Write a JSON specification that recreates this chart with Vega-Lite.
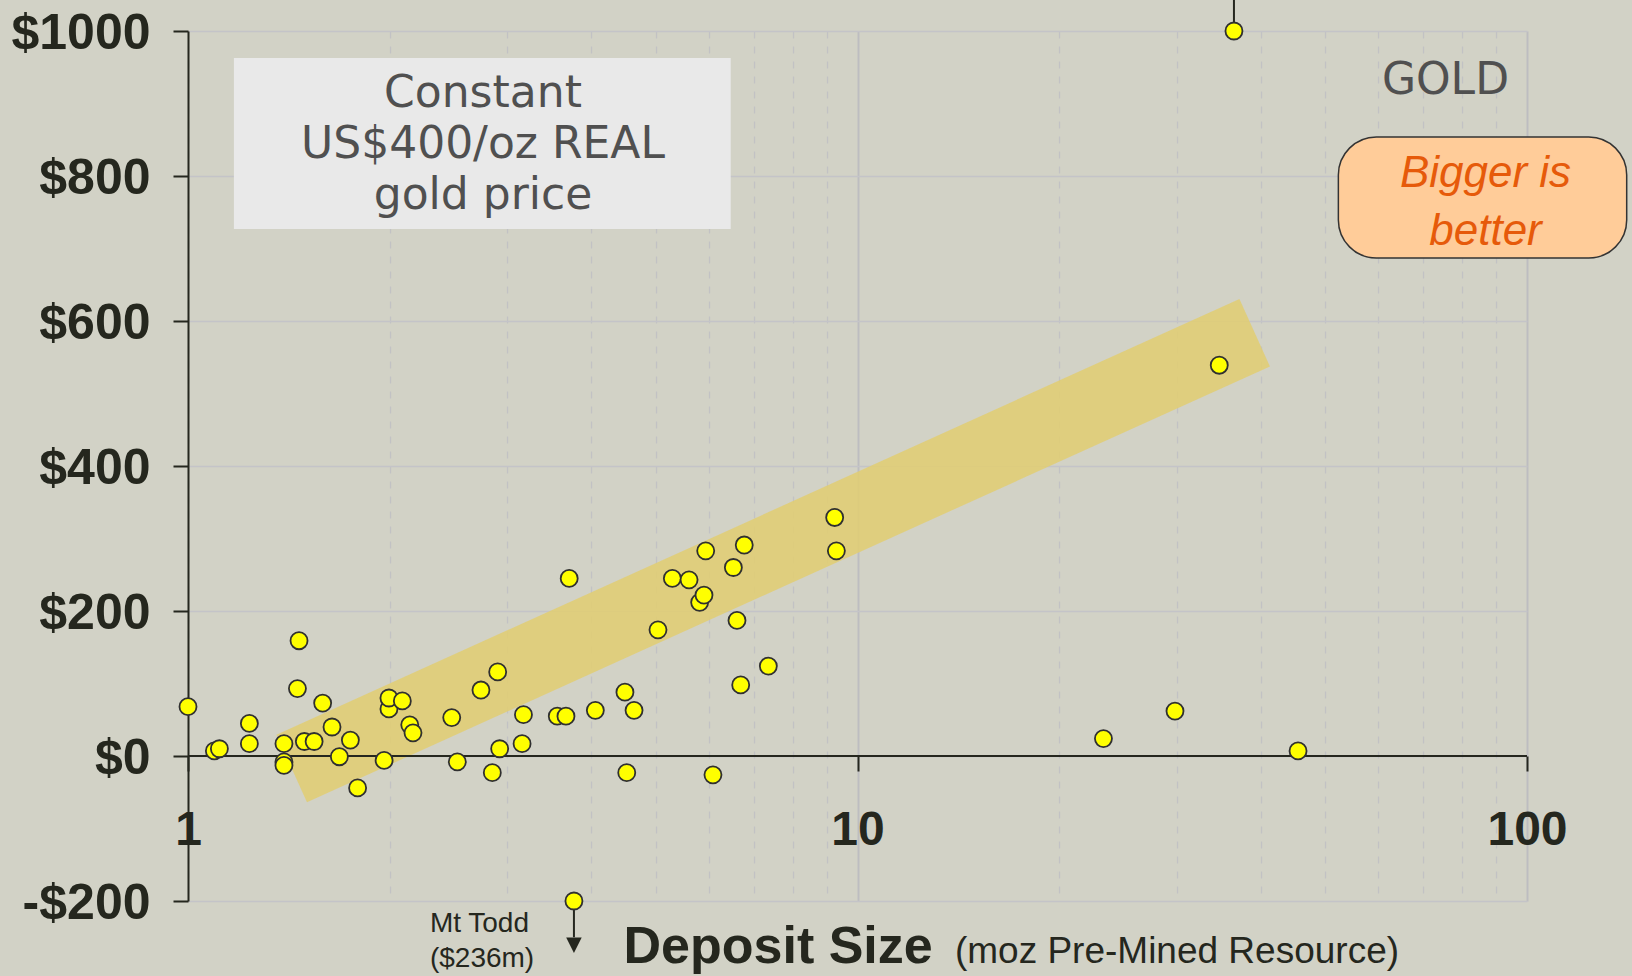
{
  "$schema": "https://vega.github.io/schema/vega-lite/v6.json",
  "width": 1339,
  "height": 870,
  "autosize": {"type": "none"},
  "padding": {"left": 188, "top": 31, "right": 105, "bottom": 75},
  "background": "#D2D2C6",
  "config": {"view": {"stroke": null}},
  "datasets": {
    "deposits": [
      {"size": 1.0, "margin": 68}, {"size": 1.095, "margin": 7}, {"size": 1.114, "margin": 10},
      {"size": 1.235, "margin": 45}, {"size": 1.235, "margin": 17}, {"size": 1.465, "margin": 159},
      {"size": 1.457, "margin": 93}, {"size": 1.391, "margin": 17}, {"size": 1.391, "margin": -8},
      {"size": 1.391, "margin": -13}, {"size": 1.492, "margin": 20}, {"size": 1.543, "margin": 20},
      {"size": 1.589, "margin": 73}, {"size": 1.641, "margin": 40}, {"size": 1.748, "margin": 22},
      {"size": 1.683, "margin": -1}, {"size": 1.792, "margin": -44}, {"size": 1.996, "margin": 65},
      {"size": 1.996, "margin": 80}, {"size": 2.09, "margin": 76}, {"size": 1.963, "margin": -6},
      {"size": 2.144, "margin": 43}, {"size": 2.168, "margin": 32}, {"size": 2.477, "margin": 53},
      {"size": 2.525, "margin": -8}, {"size": 2.739, "margin": 91}, {"size": 2.901, "margin": 116},
      {"size": 2.848, "margin": -23}, {"size": 2.921, "margin": 10}, {"size": 3.17, "margin": 57},
      {"size": 3.155, "margin": 17}, {"size": 3.561, "margin": 55}, {"size": 3.669, "margin": 55},
      {"size": 3.71, "margin": 245}, {"size": 4.059, "margin": 63}, {"size": 4.494, "margin": 88},
      {"size": 4.637, "margin": 63}, {"size": 4.522, "margin": -23}, {"size": 5.035, "margin": 174},
      {"size": 5.29, "margin": 245}, {"size": 5.603, "margin": 243}, {"size": 5.811, "margin": 212},
      {"size": 5.898, "margin": 222}, {"size": 5.933, "margin": 283}, {"size": 6.083, "margin": -26},
      {"size": 6.525, "margin": 260}, {"size": 6.607, "margin": 187}, {"size": 6.692, "margin": 98},
      {"size": 6.774, "margin": 291}, {"size": 7.359, "margin": 124}, {"size": 9.245, "margin": 329},
      {"size": 9.299, "margin": 283}, {"size": 23.3, "margin": 24}, {"size": 29.8, "margin": 62},
      {"size": 34.7, "margin": 539}, {"size": 36.5, "margin": 1000}, {"size": 45.5, "margin": 7},
      {"size": 3.771, "margin": -200}
    ],
    "band": [{"size": 1.4287, "margin": -17.2}, {"size": 39.2, "margin": 583.9}],
    "zeroLine": [{"size": 1, "size2": 100, "margin": 0}],
    "grayBox": [{"size": 1.171, "size2": 6.466, "margin": 962.8, "margin2": 726.9}],
    "peachBox": [{"size": 52.27, "size2": 140.9, "margin": 853.8, "margin2": 686.9}],
    "leaders": [
      {"size": 36.5, "margin": 1000, "margin2": 1050},
      {"size": 3.771, "margin": -200, "margin2": -250}
    ],
    "arrowHead": [{"size": 3.771, "margin": -261}],
    "boxText": [{"size": 2.758, "margin": 895.6, "label": "Constant\nUS$400/oz REAL\ngold price"}],
    "goldText": [{"size": 94.0, "margin": 913.1, "label": "GOLD"}],
    "biggerText": [{"size": 86.7, "margin": 784.8, "label": "Bigger is\nbetter"}],
    "toddText": [{"size": 2.298, "margin": -242.3, "label": "Mt Todd\n($236m)"}],
    "titleMain": [{"size": 4.472, "margin": -285.5, "label": "Deposit Size"}],
    "titleSub": [{"size": 13.98, "margin": -285.5, "label": "(moz Pre-Mined Resource)"}]
  },
  "encoding": {
    "x": {
      "field": "size",
      "type": "quantitative",
      "scale": {"type": "log", "domain": [1, 100], "nice": false},
      "axis": {
        "orient": "bottom",
        "offset": -145,
        "title": null,
        "values": [1, 2, 3, 4, 5, 6, 7, 8, 9, 10, 20, 30, 40, 50, 60, 70, 80, 90, 100],
        "labelExpr": "(datum.value == 1 || datum.value == 10 || datum.value == 100) ? ('' + datum.value) : ''",
        "labelFont": "Liberation Sans",
        "labelFontSize": 48,
        "labelFontWeight": "bold",
        "labelColor": "#25271E",
        "labelPadding": 35,
        "labelFlush": false,
        "labelOverlap": false,
        "labelBound": false,
        "domain": false,
        "tickSize": 15,
        "tickWidth": 2,
        "tickColor": "#25271E",
        "tickOpacity": {"condition": {"test": "datum.value == 1 || datum.value == 10 || datum.value == 100", "value": 1}, "value": 0},
        "grid": true,
        "gridColor": {"condition": {"test": "datum.value == 10 || datum.value == 100", "value": "#BDBDC0"}, "value": "#C2C2C4"},
        "gridWidth": {"condition": {"test": "datum.value == 10 || datum.value == 100", "value": 2}, "value": 1.3},
        "gridDash": {"condition": {"test": "datum.value == 10 || datum.value == 100", "value": []}, "value": [7, 8]},
        "zindex": 0
      }
    },
    "y": {
      "field": "margin",
      "type": "quantitative",
      "scale": {"domain": [-200, 1000], "nice": false, "zero": false},
      "axis": {
        "title": null,
        "values": [-200, 0, 200, 400, 600, 800, 1000],
        "labelExpr": "datum.value < 0 ? ('-$' + abs(datum.value)) : ('$' + datum.value)",
        "labelFont": "Liberation Sans",
        "labelFontSize": 50,
        "labelFontWeight": "bold",
        "labelColor": "#25271E",
        "labelPadding": 23,
        "labelOffset": 2,
        "labelOverlap": false,
        "labelBound": false,
        "domainColor": "#25271E",
        "domainWidth": 2,
        "tickSize": 15,
        "tickWidth": 2,
        "tickColor": "#25271E",
        "grid": true,
        "gridColor": "#C4C4C8",
        "gridWidth": 1.5,
        "zindex": 0
      }
    }
  },
  "layer": [
    {
      "data": {"name": "band"},
      "mark": {"type": "line", "strokeWidth": 74, "strokeCap": "butt", "color": "#E2CE71", "opacity": 0.85}
    },
    {
      "data": {"name": "zeroLine"},
      "mark": {"type": "rule", "color": "#25271E", "strokeWidth": 2},
      "encoding": {"x2": {"field": "size2"}}
    },
    {
      "data": {"name": "grayBox"},
      "mark": {"type": "rect", "fill": "#E9E9E9", "stroke": null},
      "encoding": {"x2": {"field": "size2"}, "y2": {"field": "margin2"}}
    },
    {
      "data": {"name": "peachBox"},
      "mark": {"type": "rect", "fill": "#FFCC99", "stroke": "#333333", "strokeWidth": 1.5, "cornerRadius": 38},
      "encoding": {"x2": {"field": "size2"}, "y2": {"field": "margin2"}}
    },
    {
      "data": {"name": "leaders"},
      "mark": {"type": "rule", "color": "#25271E", "strokeWidth": 2},
      "encoding": {"y2": {"field": "margin2"}}
    },
    {
      "data": {"name": "arrowHead"},
      "mark": {"type": "point", "shape": "M-1,-1L1,-1L0,1Z", "filled": true, "color": "#25271E", "size": 240, "opacity": 1}
    },
    {
      "data": {"name": "deposits"},
      "mark": {"type": "circle", "fill": "#FFFF00", "stroke": "#303030", "strokeWidth": 1.8, "size": 290, "opacity": 1}
    },
    {
      "data": {"name": "boxText"},
      "mark": {"type": "text", "lineBreak": "\n", "align": "center", "baseline": "alphabetic", "font": "DejaVu Sans", "fontSize": 44, "lineHeight": 51, "color": "#505050"},
      "encoding": {"text": {"field": "label"}}
    },
    {
      "data": {"name": "goldText"},
      "mark": {"type": "text", "align": "right", "baseline": "alphabetic", "font": "DejaVu Sans", "fontSize": 44, "color": "#505050"},
      "encoding": {"text": {"field": "label"}}
    },
    {
      "data": {"name": "biggerText"},
      "mark": {"type": "text", "lineBreak": "\n", "align": "center", "baseline": "alphabetic", "font": "Liberation Sans", "fontStyle": "italic", "fontSize": 44, "lineHeight": 58, "color": "#E65A0A"},
      "encoding": {"text": {"field": "label"}}
    },
    {
      "data": {"name": "toddText"},
      "mark": {"type": "text", "lineBreak": "\n", "align": "left", "baseline": "alphabetic", "font": "Liberation Sans", "fontSize": 28, "lineHeight": 35, "color": "#25271E"},
      "encoding": {"text": {"field": "label"}}
    },
    {
      "data": {"name": "titleMain"},
      "mark": {"type": "text", "align": "left", "baseline": "alphabetic", "font": "Liberation Sans", "fontWeight": "bold", "fontSize": 52, "color": "#25271E"},
      "encoding": {"text": {"field": "label"}}
    },
    {
      "data": {"name": "titleSub"},
      "mark": {"type": "text", "align": "left", "baseline": "alphabetic", "font": "Liberation Sans", "fontSize": 37, "color": "#25271E"},
      "encoding": {"text": {"field": "label"}}
    }
  ]
}
